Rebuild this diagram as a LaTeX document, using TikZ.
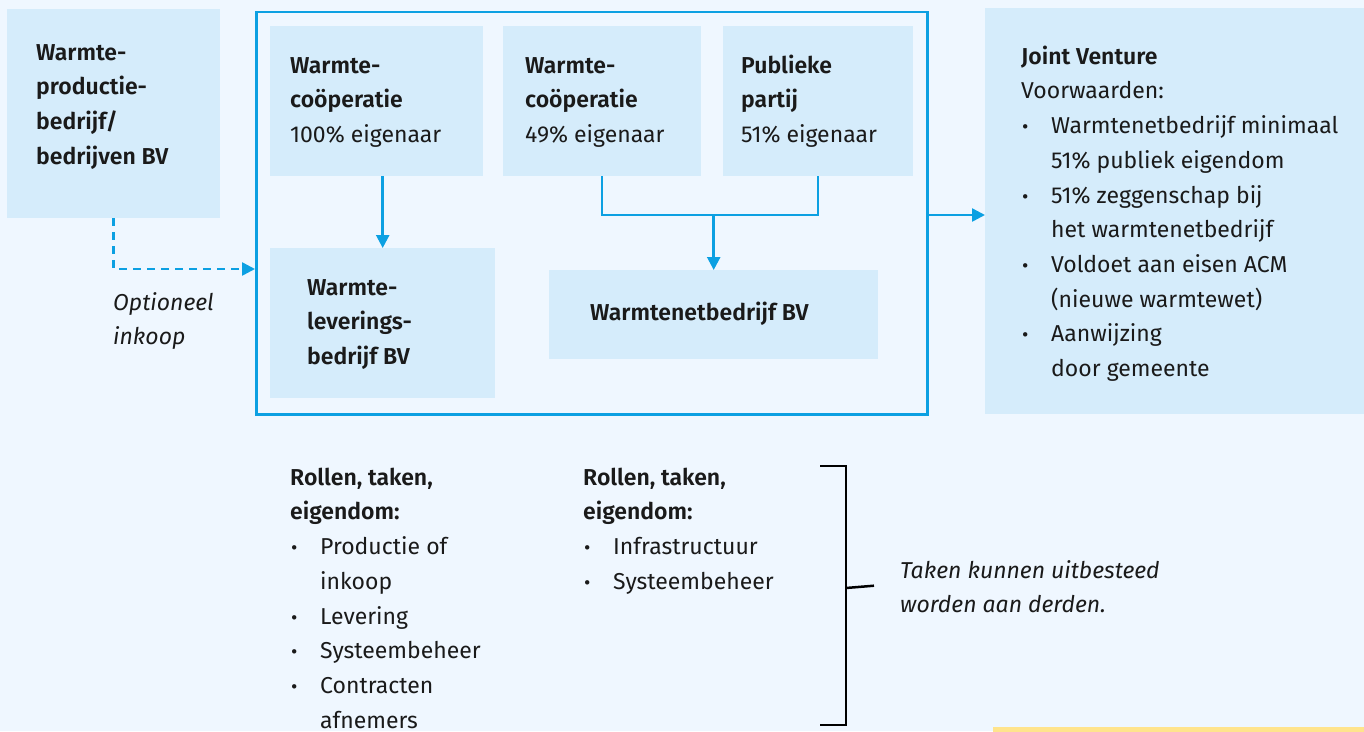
\documentclass[tikz,border=0pt]{standalone}
\usepackage{fontspec}
\setmainfont{Fira Sans}[BoldFont={Fira Sans SemiBold}]
\usetikzlibrary{arrows.meta}
\definecolor{bg}{RGB}{239,247,255}
\definecolor{boxc}{RGB}{213,236,251}
\definecolor{blu}{RGB}{12,160,226}
\definecolor{ink}{RGB}{26,26,26}
\definecolor{yel}{RGB}{255,228,140}
\newcommand{\bl}[1]{\makebox[30pt][l]{\hspace{1pt}\scalebox{0.85}{•}}#1}
\newcommand{\ct}[1]{\hspace*{30pt}#1}
\newcommand{\fl}{\rule{0pt}{20pt}}
\begin{document}
\begin{tikzpicture}[x=1pt,y=-1pt,
  boxn/.style={fill=boxc, draw=none, inner sep=0pt, anchor=north west},
  txt/.style={anchor=north west, inner sep=0pt, align=left, text=ink, font=\fontsize{23}{34.7}\selectfont},
  txb/.style={txt, font=\fontsize{23}{34.7}\selectfont\bfseries},
  txi/.style={txt, font=\fontsize{23}{34.7}\selectfont\itshape},
  conn/.style={draw=blu, line width=2.5pt},
  arr/.style={conn, -{Triangle[length=13pt,width=13pt]}},
  brk/.style={draw=black, line width=2.5pt}
]
\useasboundingbox (0,0) rectangle (1364,731);
\fill[bg] (0,0) rectangle (1364,731);

% boxes
\node[boxn, minimum width=213pt, minimum height=209pt] (prod) at (7,9) {};
\node[boxn, minimum width=213pt, minimum height=150pt] (coop1) at (270,26) {};
\node[boxn, minimum width=198pt, minimum height=150pt] (coop2) at (503,26) {};
\node[boxn, minimum width=190pt, minimum height=150pt] (pub) at (723,26) {};
\node[boxn, minimum width=225pt, minimum height=150pt] (lev) at (270,248) {};
\node[boxn, minimum width=329pt, minimum height=89pt] (net) at (549,270) {};
\node[boxn, minimum width=379pt, minimum height=406pt] (jv) at (985,8) {};
\node[draw=blu, line width=2.5pt, inner sep=0pt, anchor=north west, minimum width=671pt, minimum height=402.5pt] (grp) at (255,10.5) {};
\node[anchor=north west, fill=yel, inner sep=0pt, minimum width=371pt, minimum height=8pt] (yl) at (993,727) {};

% texts
\node[txb] (tprod) at (36,40) {\fl Warmte-\\productie-\\bedrijf/\\bedrijven BV};
\node[txt] (tcoop1) at (290,53) {\fl\textbf{Warmte-}\\\textbf{coöperatie}\\100\% eigenaar};
\node[txt] (tcoop2) at (525,53) {\fl\textbf{Warmte-}\\\textbf{coöperatie}\\49\% eigenaar};
\node[txt] (tpub) at (741,53) {\fl\textbf{Publieke}\\\textbf{partij}\\51\% eigenaar};
\node[txb] (tlev) at (307,275) {\fl Warmte-\\leverings-\\bedrijf BV};
\node[txb] (tnet) at (590,300) {\fl Warmtenetbedrijf BV};
\node[txt] (tjv) at (1021,44) {\fl\textbf{Joint Venture}\\Voorwaarden:\\\bl{Warmtenetbedrijf minimaal}\\\ct{51\% publiek eigendom}\\\bl{51\% zeggenschap bij}\\\ct{het warmtenetbedrijf}\\\bl{Voldoet aan eisen ACM}\\\ct{(nieuwe warmtewet)}\\\bl{Aanwijzing}\\\ct{door gemeente}};
\node[txi] (topt) at (113,290) {\fl Optioneel\\inkoop};
\node[txt] (trol1) at (290,465) {\fl\textbf{Rollen, taken,}\\\textbf{eigendom:}\\\bl{Productie of}\\\ct{inkoop}\\\bl{Levering}\\\bl{Systeembeheer}\\\bl{Contracten}\\\ct{afnemers}};
\node[txt] (trol2) at (583,465) {\fl\textbf{Rollen, taken,}\\\textbf{eigendom:}\\\bl{Infrastructuur}\\\bl{Systeembeheer}};
\node[txi] (ttaken) at (900,558) {\fl Taken kunnen uitbesteed\\worden aan derden.};

% connectors
\coordinate (j) at (713,215);
\draw[arr] (coop1.south -| lev.north) -- (lev.north);
\draw[conn, line join=miter] (coop2.south) -- (coop2.south |- j) -- (pub.south |- j) -- (pub.south);
\draw[arr] (net.north |- j) -- (net.north);
\draw[arr] (grp.east |- j) -- (jv.west |- j);
\draw[arr, dash pattern=on 8pt off 6pt] (prod.south) |- (grp.west |- 0,269);

% bracket
\coordinate (bt) at (820,466);
\coordinate (bb) at (820,725);
\coordinate (bm) at (846,588);
\draw[brk, line join=miter] (bt) -| (bb -| bm) -- (bb);
\draw[brk] (bm) -- (ttaken.west -| 874,0);
\end{tikzpicture}
\end{document}
